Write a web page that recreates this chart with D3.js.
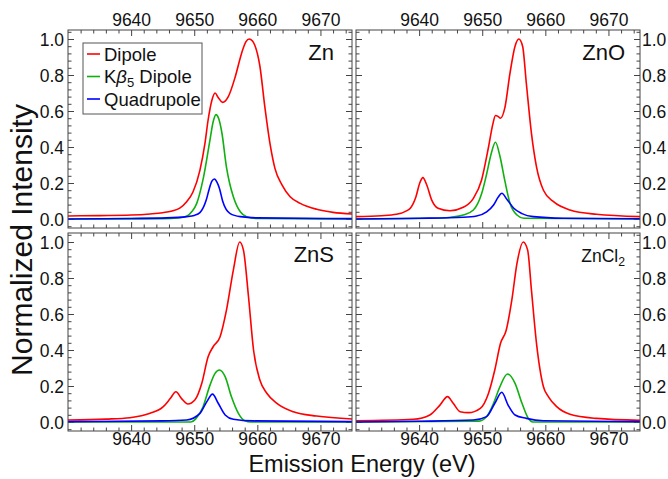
<!DOCTYPE html>
<html>
<head>
<meta charset="utf-8">
<script src="https://cdn.jsdelivr.net/npm/d3@7"></script>
<style>
  html, body { margin: 0; padding: 0; background: #fff; }
  svg { display: block; font-family: "Liberation Sans", Arial, sans-serif; }
</style>
</head>
<body>
<svg id="chart" width="668" height="479"></svg>
<script>
// Energy axis (eV) and intensity axis ticks
const xTicks = [9640, 9650, 9660, 9670];
const yTicks = [0.0, 0.2, 0.4, 0.6, 0.8, 1.0];
const xDomain = [9630, 9675];
const yDomain = [-0.05, 1.05];

// Series names and colours
const seriesNames = ["Dipole", "Kβ5 Dipole", "Quadrupole"];
const seriesColors = ["#ff0000", "#10b010", "#0000ff"];

// Zn metal: [energy, normalized intensity]
const znDipole = [[9630,0.017],[9635,0.019],[9640,0.022],[9643,0.028],[9645,0.035],[9646.5,0.045],[9647.7,0.06],[9648.8,0.096],[9649.8,0.15],[9650.9,0.27],[9651.7,0.42],[9652.2,0.55],[9652.8,0.66],[9653.3,0.70],[9653.8,0.675],[9654.5,0.648],[9655.4,0.68],[9656.5,0.79],[9657.5,0.92],[9658.2,0.985],[9658.7,1.0],[9659.2,0.99],[9659.6,0.965],[9660.4,0.85],[9661.2,0.62],[9662,0.42],[9662.8,0.28],[9663.9,0.19],[9665.2,0.124],[9666.8,0.087],[9669.4,0.054],[9672,0.037],[9675,0.028]];
const znKb5 = [[9630,0],[9645,0.002],[9647.5,0.006],[9648.8,0.015],[9649.6,0.04],[9650.4,0.087],[9651.4,0.22],[9652.5,0.44],[9653,0.54],[9653.45,0.58],[9653.9,0.555],[9654.4,0.475],[9655.1,0.29],[9655.6,0.2],[9656.2,0.124],[9657.3,0.04],[9658.3,0.013],[9660,0.003],[9675,0]];
const znQuad = [[9630,0],[9640,0.003],[9645.6,0.006],[9648.8,0.013],[9650,0.02],[9650.9,0.035],[9651.9,0.105],[9652.4,0.17],[9652.8,0.21],[9653.2,0.222],[9653.6,0.205],[9654.0,0.17],[9654.5,0.1],[9655.7,0.03],[9657.3,0.013],[9660,0.006],[9675,0.002]];

// ZnO
const znoDipole = [[9630,0.013],[9634,0.018],[9636.4,0.026],[9638,0.045],[9638.6,0.06],[9639.5,0.124],[9640.1,0.2],[9640.6,0.23],[9641.2,0.19],[9642,0.105],[9643,0.06],[9644.9,0.046],[9647,0.065],[9648.6,0.115],[9649.9,0.217],[9651,0.40],[9651.7,0.53],[9652.1,0.575],[9652.5,0.57],[9652.9,0.56],[9653.6,0.62],[9654.4,0.81],[9655.2,0.96],[9655.8,1.0],[9656.4,0.96],[9657,0.75],[9657.8,0.476],[9658.6,0.29],[9659.7,0.16],[9661.3,0.096],[9663.9,0.05],[9668.1,0.026],[9675,0.013]];
const znoKb5 = [[9630,0],[9641.7,0.004],[9645,0.01],[9647,0.022],[9648.6,0.05],[9649.9,0.14],[9650.7,0.25],[9651.4,0.36],[9652.1,0.426],[9652.8,0.35],[9653.6,0.21],[9654.4,0.087],[9655.5,0.022],[9656.6,0.004],[9675,0]];
const znoQuad = [[9630,0],[9640,0.004],[9647,0.01],[9649.1,0.017],[9650.7,0.04],[9651.8,0.078],[9652.5,0.12],[9653.1,0.143],[9653.9,0.11],[9655,0.06],[9656.3,0.03],[9658.1,0.013],[9662.8,0.004],[9675,0.001]];

// ZnS
const znsDipole = [[9630,0.011],[9636,0.016],[9639.8,0.024],[9643,0.048],[9645.1,0.085],[9646.2,0.13],[9647.1,0.168],[9648,0.13],[9649,0.1],[9650.1,0.122],[9651.2,0.215],[9652.2,0.363],[9653,0.418],[9654.1,0.474],[9655.1,0.62],[9656.2,0.844],[9657.2,1.0],[9657.8,0.955],[9658.6,0.696],[9659.4,0.4],[9660.4,0.233],[9661.5,0.16],[9663.1,0.104],[9665.7,0.057],[9669.4,0.033],[9675,0.017]];
const znsKb5 = [[9630,0],[9649.4,0],[9650.3,0.02],[9651.4,0.085],[9652.5,0.205],[9653.3,0.27],[9654,0.289],[9654.9,0.252],[9655.9,0.14],[9657,0.048],[9658,0.007],[9659,0],[9675,0]];
const znsQuad = [[9630,0.002],[9645,0.006],[9648.8,0.011],[9650.9,0.048],[9652,0.113],[9652.9,0.155],[9653.8,0.104],[9654.9,0.039],[9656.2,0.015],[9659.4,0.006],[9675,0.002]];

// ZnCl2
const zncl2Dipole = [[9630,0.007],[9639.1,0.015],[9641.7,0.039],[9643.3,0.094],[9644.5,0.141],[9645.4,0.104],[9646.5,0.057],[9647.8,0.052],[9649.7,0.076],[9651,0.16],[9652,0.29],[9652.9,0.437],[9653.8,0.51],[9654.7,0.68],[9655.5,0.88],[9656.5,1.0],[9657.2,0.955],[9657.8,0.733],[9658.6,0.437],[9659.7,0.196],[9660.5,0.14],[9661.8,0.085],[9663.9,0.043],[9668.1,0.02],[9675,0.009]];
const zncl2Kb5 = [[9630,0],[9649.5,0.005],[9650.7,0.03],[9651.8,0.104],[9652.8,0.196],[9654,0.267],[9655.2,0.215],[9656.3,0.104],[9657.3,0.02],[9658,0],[9675,0]];
const zncl2Quad = [[9630,0],[9640,0.004],[9648.6,0.011],[9650.7,0.03],[9652,0.104],[9653.1,0.165],[9654.1,0.094],[9655.2,0.039],[9657,0.02],[9659.7,0.007],[9675,0.002]];

// Panel layout
const colX = [68, 356];
const rowY = [30, 233];
const panelW = 284, panelH = 198;

const panels = [
  { label: "Zn", sub: null, col: 0, row: 0, series: [znDipole, znKb5, znQuad], size: 22 },
  { label: "ZnO", sub: null, col: 1, row: 0, series: [znoDipole, znoKb5, znoQuad], size: 22 },
  { label: "ZnS", sub: null, col: 0, row: 1, series: [znsDipole, znsKb5, znsQuad], size: 22 },
  { label: "ZnCl", sub: "2", col: 1, row: 1, series: [zncl2Dipole, zncl2Kb5, zncl2Quad], size: 17.5 }
];

const svg = d3.select("#chart");
const frameColor = "#444";
const tickFont = 17.5;

panels.forEach((p, i) => {
  const x0 = colX[p.col], y0 = rowY[p.row];
  const x = d3.scaleLinear().domain(xDomain).range([0, panelW]);
  const y = d3.scaleLinear().domain(yDomain).range([panelH, 0]);
  const g = svg.append("g").attr("transform", `translate(${x0},${y0})`);

  g.append("clipPath").attr("id", "clip" + i)
    .append("rect").attr("width", panelW).attr("height", panelH);

  // Inward ticks on all four sides: major every 10 eV / 0.2, minor every 2 eV / 0.04
  const xMinor = d3.range(9632, 9675, 2).filter(v => (v % 10) !== 0);
  const yMinor = d3.range(-0.04, 1.05, 0.04).map(v => +v.toFixed(2)).filter(v => Math.abs(v * 5 - Math.round(v * 5)) > 1e-6);

  const addTicks = (axisFn, scale, major, minor, transform, showLabels, fmt) => {
    const ax = g.append("g").attr("transform", transform);
    ax.call(axisFn(scale).tickValues(minor).tickSize(-3.5).tickFormat(""));
    const axM = g.append("g").attr("transform", transform);
    axM.call(axisFn(scale).tickValues(major).tickSize(-6).tickPadding(showLabels ? 4 : 0)
      .tickFormat(showLabels ? fmt : ""));
    [ax, axM].forEach(a => {
      a.select(".domain").remove();
      a.selectAll("line").attr("stroke", frameColor);
      a.selectAll("text").attr("font-size", tickFont).attr("fill", "#111").attr("font-family", "Liberation Sans, Arial, sans-serif");
    });
    return axM;
  };

  const fx = d3.format(".0f"), fy = d3.format(".1f");
  // top
  const topAx = addTicks(d3.axisTop, x, xTicks, xMinor, "translate(0,0)", p.row === 0, fx);
  if (p.row === 0) topAx.selectAll("text").attr("dy", null).attr("y", -4);
  // bottom
  const botAx = addTicks(d3.axisBottom, x, xTicks, xMinor, `translate(0,${panelH})`, p.row === 1, fx);
  if (p.row === 1) botAx.selectAll("text").attr("dy", null).attr("y", 14).attr("dominant-baseline", "auto");
  // left
  const leftAx = addTicks(d3.axisLeft, y, yTicks, yMinor, "translate(0,0)", p.col === 0, fy);
  if (p.col === 0) leftAx.selectAll("text").attr("x", -4).attr("dy", "0.36em");
  // right
  const rightAx = addTicks(d3.axisRight, y, yTicks, yMinor, `translate(${panelW},0)`, p.col === 1, fy);
  if (p.col === 1) rightAx.selectAll("text").attr("x", 2).attr("dy", "0.36em");

  // Spectra
  const line = d3.line().x(d => x(d[0])).y(d => y(d[1])).curve(d3.curveMonotoneX);
  const plot = g.append("g").attr("clip-path", `url(#clip${i})`);
  [0, 1, 2].forEach(k => {
    plot.append("path").datum(p.series[k])
      .attr("fill", "none").attr("stroke", seriesColors[k])
      .attr("stroke-width", 1.6).attr("stroke-linejoin", "round")
      .attr("d", line);
  });

  // Frame
  g.append("rect").attr("width", panelW).attr("height", panelH)
    .attr("fill", "none").attr("stroke", frameColor).attr("stroke-width", 1);

  // Panel label
  const lab = g.append("text")
    .attr("x", panelW - (p.col === 0 ? 18 : 15))
    .attr("y", p.row === 0 ? 30 : 29)
    .attr("text-anchor", "end")
    .attr("font-size", p.size).attr("fill", "#111");
  lab.append("tspan").text(p.label);
  if (p.sub) lab.append("tspan").attr("font-size", p.size * 0.7).attr("dy", 4).text(p.sub);
});

// Legend in the Zn panel
const lg = svg.append("g").attr("transform", "translate(83,43)");
lg.append("rect").attr("width", 119).attr("height", 71)
  .attr("fill", "#fff").attr("stroke", "#555").attr("stroke-width", 1);
seriesNames.forEach((name, k) => {
  const yy = 11 + k * 22.5;
  lg.append("line").attr("x1", 4).attr("x2", 17).attr("y1", yy).attr("y2", yy)
    .attr("stroke", seriesColors[k]).attr("stroke-width", 1.6);
  const t = lg.append("text").attr("x", 21).attr("y", yy + 6.5)
    .attr("font-size", 18.5).attr("fill", "#111");
  if (k === 1) {
    t.append("tspan").text("K");
    t.append("tspan").attr("font-style", "italic").text("β");
    t.append("tspan").attr("font-size", 13).attr("dy", 4).text("5");
    t.append("tspan").attr("dy", -4).text(" Dipole");
  } else {
    t.text(name);
  }
});

// Axis titles
svg.append("text").attr("x", 362).attr("y", 472).attr("text-anchor", "middle")
  .attr("font-size", 23.5).attr("fill", "#111").text("Emission Energy (eV)");
svg.append("text").attr("transform", "translate(32,240) rotate(-90)")
  .attr("text-anchor", "middle").attr("font-size", 30).attr("fill", "#111")
  .text("Normalized Intensity");
</script>
</body>
</html>
